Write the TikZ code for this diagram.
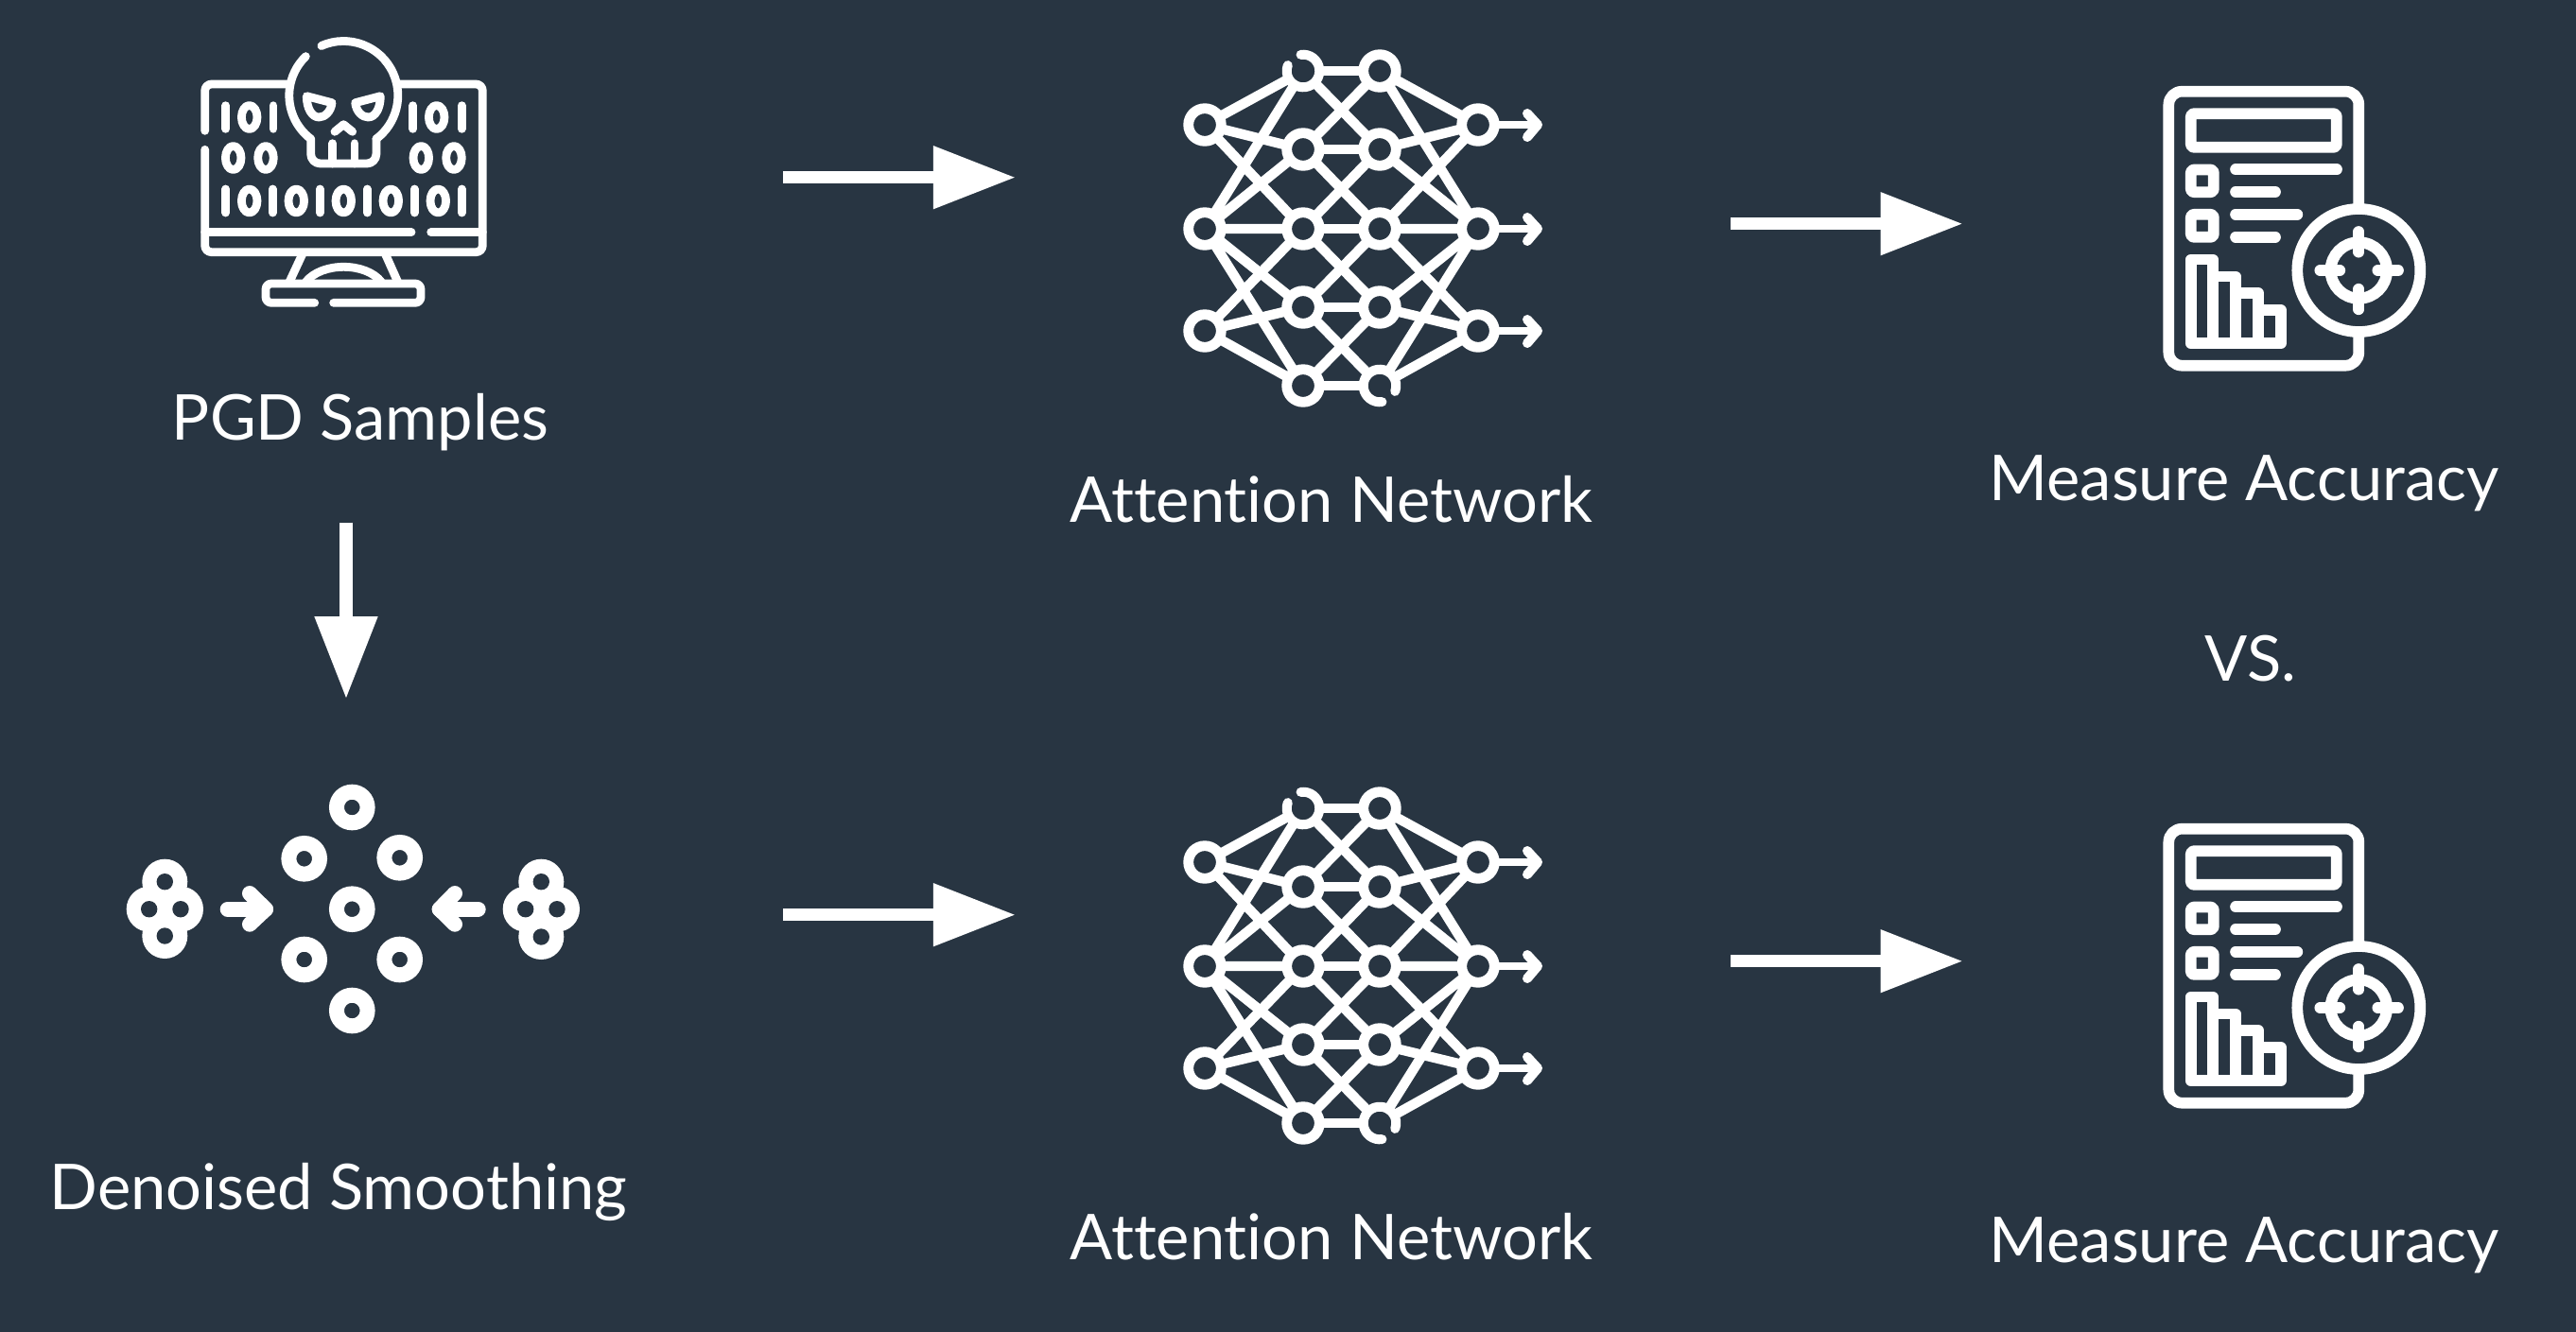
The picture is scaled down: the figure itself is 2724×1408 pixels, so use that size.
\documentclass[tikz,border=0pt]{standalone}
\usepackage{fontspec}
\setmainfont{Lato}[Ligatures=CommonOff]
\usetikzlibrary{arrows.meta}
\definecolor{slatebg}{HTML}{283542}
\tikzset{
    captiontext/.style={text=white,font=\fontsize{33.4}{40}\selectfont,anchor=base,inner sep=0pt},
    bigarrow/.style={draw=white,line width=6.67pt,-{Triangle[length=43.6pt,width=31.7pt,fill=white]}},
    iconline/.style={draw=white,line width=4.4pt,line cap=round,line join=round},
    reportline/.style={draw=white,line width=5.85pt,line cap=round,line join=round},
    netline/.style={draw=white,line width=5.2pt},
    netring/.style={circle,draw=white,line width=5.4pt,minimum size=17.3pt,inner sep=0pt,outer sep=0pt},
    netgap/.style={circle,minimum size=17.3pt,inner sep=0pt,outer sep=0pt},
    dotring/.style={circle,draw=white,line width=8pt,minimum size=16.3pt,inner sep=0pt,outer sep=0pt},
    blobdot/.style={circle,fill=white,minimum size=24pt,inner sep=0pt,outer sep=0pt},
    blobhole/.style={circle,fill=slatebg,minimum size=8.7pt,inner sep=0pt,outer sep=0pt},
    aimring/.style={circle,draw=white,fill=slatebg,line width=5.85pt,minimum size=65pt,inner sep=0pt,outer sep=0pt},
    netpic/.pic={
        \node [netring] (-l1) at (1274,132) {};
        \node [netring] (-l2) at (1274,242) {};
        \node [netring] (-l3) at (1274,350) {};
        \node [netgap] (-a0) at (1378,75) {};
        \node [netring] (-a1) at (1378,158) {};
        \node [netring] (-a2) at (1378,242) {};
        \node [netring] (-a3) at (1378,325) {};
        \node [netring] (-a4) at (1378,408) {};
        \node [netring] (-b0) at (1459,75) {};
        \node [netring] (-b1) at (1459,158) {};
        \node [netring] (-b2) at (1459,242) {};
        \node [netring] (-b3) at (1459,325) {};
        \node [netgap] (-b4) at (1459,408) {};
        \node [netring] (-r1) at (1563,132) {};
        \node [netring] (-r2) at (1563,242) {};
        \node [netring] (-r3) at (1563,350) {};
        \coordinate (-o1) at (1626,132);
        \coordinate (-o2) at (1626,242);
        \coordinate (-o3) at (1626,350);
        \draw [netline] (-l1) -- (-a0) (-l1) -- (-a1) (-l1) -- (-a2);
        \draw [netline] (-l2) -- (-a0) (-l2) -- (-a1) (-l2) -- (-a2) (-l2) -- (-a3) (-l2) -- (-a4);
        \draw [netline] (-l3) -- (-a2) (-l3) -- (-a3) (-l3) -- (-a4);
        \draw [netline] (-r1) -- (-b0) (-r1) -- (-b1) (-r1) -- (-b2);
        \draw [netline] (-r2) -- (-b0) (-r2) -- (-b1) (-r2) -- (-b2) (-r2) -- (-b3) (-r2) -- (-b4);
        \draw [netline] (-r3) -- (-b2) (-r3) -- (-b3) (-r3) -- (-b4);
        \draw [netline] (-a0) -- (-b0) (-a1) -- (-b1) (-a2) -- (-b2) (-a3) -- (-b3) (-a4) -- (-b4);
        \draw [netline] (-a0) -- (-b1) (-a1) -- (-b0) (-a1) -- (-b2) (-a2) -- (-b1);
        \draw [netline] (-a2) -- (-b3) (-a3) -- (-b2) (-a3) -- (-b4) (-a4) -- (-b3);
        \draw [iconline,line width=5pt] (-a0.98) arc [start angle=98,end angle=-200,radius=8.65pt];
        \draw [iconline,line width=5pt] (-b4.-82) arc [start angle=-82,end angle=-380,radius=8.65pt];
        \draw [netline,line width=4pt] (-r1) -- (-o1) (-r2) -- (-o2) (-r3) -- (-o3);
        \draw [iconline,line width=5pt] (1615,120) -- (-o1) -- (1615,145);
        \draw [iconline,line width=5pt] (1615,230) -- (-o2) -- (1615,255);
        \draw [iconline,line width=5pt] (1615,338) -- (-o3) -- (1615,363);
    },
    reportpic/.pic={
        \draw [reportline,rounded corners=7pt] (2293.3,96.7) rectangle (2494.3,386.7);
        \draw [reportline,rounded corners=1.5pt] (2316.8,120.2) rectangle (2470.8,155.8);
        \draw [reportline,rounded corners=1.5pt] (2316.8,179.5) rectangle (2340.8,203.2);
        \draw [reportline,rounded corners=1.5pt] (2316.8,226.8) rectangle (2340.8,250.8);
        \draw [reportline] (2364,179.3) -- (2471,179.3);
        \draw [reportline] (2364,203) -- (2406,203);
        \draw [reportline] (2364,226.7) -- (2429.3,226.7);
        \draw [reportline] (2364,250.7) -- (2406,250.7);
        \draw [reportline,line cap=butt] (2316.8,363.3) -- (2316.8,274.5) -- (2340,274.5) -- (2340,363.3);
        \draw [reportline,line cap=butt] (2340,292.5) -- (2364,292.5) -- (2364,363.3);
        \draw [reportline,line cap=butt] (2364,310) -- (2388,310) -- (2388,363.3);
        \draw [reportline] (2388,328) -- (2411.7,328) -- (2411.7,363.3) -- (2316.8,363.3);
        \node [aimring] (-aim) at (2494.3,286) {};
        \node [circle,draw=white,line width=6pt,minimum size=29.7pt,inner sep=0pt,outer sep=0pt] (-sight) at (-aim) {};
        \draw [reportline] (2494.3,245) -- (2494.3,266.7);
        \draw [reportline] (2494.3,305.7) -- (2494.3,327.3);
        \draw [reportline] (2453.3,286) -- (2474.3,286);
        \draw [reportline] (2514.3,286) -- (2536,286);
    }
}
\begin{document}
\begin{tikzpicture}[x=0.5pt,y=-0.5pt]
    \useasboundingbox (0,0) rectangle (2724,1408);
    \fill [slatebg] (-6,-6) rectangle (2730,1414);
    \draw [iconline,rounded corners=3.5pt] (216.7,138.3) -- (216.7,89) -- (303.3,89);
    \draw [iconline,rounded corners=3.5pt] (423.3,89) -- (510.3,89) -- (510.3,266.7) -- (216.7,266.7) -- (216.7,158.3);
    \draw [iconline] (216.7,245.7) -- (435,245.7);
    \draw [iconline] (455.7,245.7) -- (510.3,245.7);
    \draw [iconline] (238.7,111.7) -- (238.7,136.3) (289,111.7) -- (289,136.3);
    \draw [iconline] (436.7,111.7) -- (436.7,136.3) (488.3,111.7) -- (488.3,136.3);
    \draw [iconline] (263.7,124) ellipse [x radius=8.3,y radius=12.5];
    \draw [iconline] (461.7,124) ellipse [x radius=8.3,y radius=12.5];
    \draw [iconline] (246.7,167) ellipse [x radius=8.3,y radius=12.5];
    \draw [iconline] (281,167) ellipse [x radius=8.3,y radius=12.5];
    \draw [iconline] (445.3,167) ellipse [x radius=8.3,y radius=12.5];
    \draw [iconline] (480,167) ellipse [x radius=8.3,y radius=12.5];
    \draw [iconline] (238.7,200) -- (238.7,225) (288.3,200) -- (288.3,225) (338.3,200) -- (338.3,225);
    \draw [iconline] (388.3,200) -- (388.3,225) (438.3,200) -- (438.3,225) (488.3,200) -- (488.3,225);
    \draw [iconline] (263.7,212.5) ellipse [x radius=8.3,y radius=12.5];
    \draw [iconline] (313.3,212.5) ellipse [x radius=8.3,y radius=12.5];
    \draw [iconline] (363.3,212.5) ellipse [x radius=8.3,y radius=12.5];
    \draw [iconline] (413.3,212.5) ellipse [x radius=8.3,y radius=12.5];
    \draw [iconline] (463.3,212.5) ellipse [x radius=8.3,y radius=12.5];
    \coordinate (skull) at (363.3,101);
    \draw [iconline] ([shift={(114:28.75pt)}]skull) arc [start angle=114,end angle=-53,radius=28.75pt];
    \draw [iconline] ([shift={(-127:28.75pt)}]skull) arc [start angle=-127,end angle=-226,radius=28.75pt];
    \draw [iconline,rounded corners=5pt] (397.9,147) -- (397.9,173) -- (328.7,173) -- (328.7,147);
    \draw [iconline] (351.7,151.7) -- (351.7,173) (375,151.7) -- (375,173);
    \draw [iconline] (354,139.3) -- (363.3,131.7) -- (372.7,139.3);
    \draw [iconline] (324.3,101.7) -- (351,108.7) .. controls (350,118.3) and (343.3,124) .. (337.3,124) .. controls (330,124) and (324.3,115) .. (324.3,101.7) -- cycle;
    \draw [iconline] (402.3,101.7) -- (375.7,108.7) .. controls (376.7,118.3) and (383.3,124) .. (389.3,124) .. controls (396.7,124) and (402.3,115) .. (402.3,101.7) -- cycle;
    \draw [iconline] (320,268.3) -- (306,298.3);
    \draw [iconline] (407.3,268.3) -- (420.7,298.3);
    \draw [iconline] (323.3,298.3) .. controls (340,277) and (387,277) .. (403.3,298.3);
    \draw [iconline,rounded corners=3pt] (332.7,320.3) -- (281,320.3) -- (281,300) -- (445,300) -- (445,320.3) -- (352.7,320.3);
    \node [captiontext] (pgdlabel) at (381,465) {PGD Samples};
    \coordinate (pgdoutright) at (828.3,187.7);
    \coordinate (netainleft) at (1074,187.7);
    \draw [bigarrow] (pgdoutright) -- (netainleft);
    \coordinate (pgdoutdown) at (366,552.7);
    \coordinate (smoothintop) at (366,739.3);
    \draw [bigarrow] (pgdoutdown) -- (smoothintop);
    \pic (neta) at (0,0) {netpic};
    \node [captiontext] (netalabel) at (1408,552.5) {Attention Network};
    \coordinate (netaout) at (1830,236.7);
    \coordinate (reportain) at (2075.7,236.7);
    \draw [bigarrow] (netaout) -- (reportain);
    \pic (reporta) at (0,0) {reportpic};
    \node [captiontext] (reportalabel) at (2373,529) {Measure Accuracy};
    \node [captiontext] (vslabel) at (2380,720.5) {VS.};
    \node [dotring] (dotn) at (372.3,854) {};
    \node [dotring] (dotnw) at (321.7,908.3) {};
    \node [dotring] (dotne) at (422.7,907.3) {};
    \node [dotring] (dotc) at (372.3,961.7) {};
    \node [dotring] (dotsw) at (321.7,1015) {};
    \node [dotring] (dotse) at (422.7,1015) {};
    \node [dotring] (dots) at (372.3,1069) {};
    \node [blobdot] (blobla) at (174.3,932.7) {};
    \node [blobdot] (bloblb) at (157.7,961.7) {};
    \node [blobdot] (bloblc) at (191,961.7) {};
    \node [blobdot] (blobld) at (174.3,990) {};
    \node [blobhole] (holela) at (blobla) {};
    \node [blobhole] (holelb) at (bloblb) {};
    \node [blobhole] (holelc) at (bloblc) {};
    \node [blobhole] (holeld) at (blobld) {};
    \node [blobdot] (blobra) at (572.3,932.7) {};
    \node [blobdot] (blobrb) at (555.7,961.7) {};
    \node [blobdot] (blobrc) at (589,961.7) {};
    \node [blobdot] (blobrd) at (572.3,991) {};
    \node [blobhole] (holera) at (blobra) {};
    \node [blobhole] (holerb) at (blobrb) {};
    \node [blobhole] (holerc) at (blobrc) {};
    \node [blobhole] (holerd) at (blobrd) {};
    \coordinate (lefttail) at (240.7,961.7);
    \coordinate (lefttip) at (281,961.7);
    \coordinate (righttail) at (505.7,961.7);
    \coordinate (righttip) at (464.7,961.7);
    \draw [iconline,line width=8pt] (lefttail) -- (lefttip);
    \draw [iconline,line width=8pt] (264,945) -- (lefttip) -- (264,977.7);
    \draw [iconline,line width=8pt] (righttail) -- (righttip);
    \draw [iconline,line width=8pt] (481,945) -- (righttip) -- (481,977.7);
    \node [captiontext] (smoothlabel) at (358,1279.5) {Denoised Smoothing};
    \coordinate (smoothout) at (828.3,967.7);
    \coordinate (netbinleft) at (1074,967.7);
    \draw [bigarrow] (smoothout) -- (netbinleft);
    \pic (netb) at (0,780) {netpic};
    \node [captiontext] (netblabel) at (1408,1332.5) {Attention Network};
    \coordinate (netbout) at (1830,1016.7);
    \coordinate (reportbin) at (2075.7,1016.7);
    \draw [bigarrow] (netbout) -- (reportbin);
    \pic (reportb) at (0,780) {reportpic};
    \node [captiontext] (reportblabel) at (2373,1335) {Measure Accuracy};
\end{tikzpicture}
\end{document}
